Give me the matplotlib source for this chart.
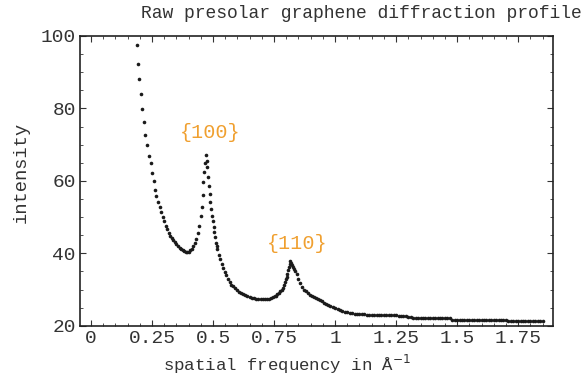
import matplotlib.pyplot as plt
from matplotlib.ticker import MultipleLocator

plt.rcParams['font.family'] = ['Liberation Mono', 'DejaVu Sans Mono']

# spatial frequency (1/A) and raw intensity
freq = [0.189, 0.193, 0.197, 0.203, 0.209, 0.216, 0.223, 0.230, 0.238, 0.245,
        0.251, 0.257, 0.262, 0.268, 0.275, 0.281, 0.287, 0.293, 0.299, 0.306,
        0.312, 0.318, 0.325, 0.331, 0.337, 0.344, 0.350, 0.356, 0.363, 0.369,
        0.375, 0.382, 0.388, 0.394, 0.401, 0.407, 0.413, 0.419, 0.426, 0.432,
        0.438, 0.444, 0.449, 0.453, 0.457, 0.460, 0.463, 0.467, 0.471, 0.474,
        0.477, 0.480, 0.483, 0.486, 0.489, 0.493, 0.497, 0.500, 0.503, 0.506,
        0.509, 0.512, 0.515, 0.518, 0.524, 0.529, 0.535, 0.541, 0.547, 0.554,
        0.561, 0.568, 0.575, 0.582, 0.590, 0.598, 0.606, 0.614, 0.623, 0.632,
        0.641, 0.650, 0.659, 0.668, 0.677, 0.686, 0.695, 0.704, 0.713, 0.721,
        0.729, 0.737, 0.745, 0.752, 0.758, 0.764, 0.770, 0.776, 0.781, 0.786,
        0.790, 0.794, 0.798, 0.802, 0.805, 0.808, 0.811, 0.814, 0.817, 0.820,
        0.823, 0.826, 0.830, 0.836, 0.842, 0.849, 0.857, 0.865, 0.873, 0.881,
        0.889, 0.897, 0.905, 0.914, 0.922, 0.930, 0.939, 0.947, 0.956, 0.964,
        0.972, 0.980, 0.990, 1.000, 1.010, 1.020, 1.030, 1.040, 1.050, 1.060,
        1.070, 1.080, 1.090, 1.100, 1.110, 1.120, 1.130, 1.140, 1.150, 1.160,
        1.170, 1.180, 1.190, 1.200, 1.210, 1.220, 1.230, 1.240, 1.250, 1.260,
        1.270, 1.280, 1.290, 1.300, 1.310, 1.320, 1.330, 1.340, 1.350, 1.360,
        1.370, 1.380, 1.390, 1.400, 1.410, 1.420, 1.430, 1.440, 1.450, 1.460,
        1.470, 1.480, 1.490, 1.500, 1.510, 1.520, 1.530, 1.540, 1.550, 1.560,
        1.570, 1.580, 1.590, 1.600, 1.610, 1.620, 1.630, 1.640, 1.650, 1.660,
        1.670, 1.680, 1.690, 1.700, 1.710, 1.720, 1.730, 1.740, 1.750, 1.760,
        1.770, 1.780, 1.790, 1.800, 1.810, 1.820, 1.830, 1.840, 1.850]
intensity = [97.5, 92.2, 88.0, 84.0, 79.8, 76.2, 72.6, 69.8, 67.0, 64.8,
             62.3, 60.0, 57.5, 55.8, 54.2, 52.8, 51.4, 50.0, 48.8, 47.6,
             46.6, 45.7, 44.9, 44.2, 43.6, 43.0, 42.5, 42.0, 41.6, 41.2,
             40.9, 40.6, 40.5, 40.4, 40.5, 40.8, 41.3, 42.0, 42.8, 44.0,
             45.5, 47.6, 50.2, 52.7, 56.0, 59.6, 62.5, 65.0, 67.2, 65.5,
             63.8, 61.2, 58.7, 56.4, 54.1, 52.2, 50.4, 48.8, 47.2, 45.8,
             44.4, 42.8, 42.0, 41.3, 39.6, 38.5, 37.2, 36.0, 34.9, 33.9,
             33.0, 32.2, 31.4, 30.9, 30.4, 29.9, 29.4, 29.0, 28.7, 28.4,
             28.1, 27.9, 27.7, 27.6, 27.5, 27.4, 27.4, 27.4, 27.4, 27.4,
             27.5, 27.7, 27.9, 28.1, 28.3, 28.7, 29.1, 29.6, 30.0, 30.5,
             31.2, 32.0, 32.8, 33.6, 34.4, 35.3, 36.2, 37.1, 37.9, 37.3,
             36.8, 36.3, 35.8, 35.2, 34.2, 33.0, 31.8, 30.8, 30.0, 29.5,
             29.0, 28.6, 28.3, 28.0, 27.8, 27.5, 27.2, 26.8, 26.4, 26.0,
             25.7, 25.4, 25.1, 24.8, 24.6, 24.3, 24.1, 23.9, 23.8, 23.6,
             23.5, 23.4, 23.3, 23.3, 23.2, 23.2, 23.1, 23.1, 23.1, 23.0,
             23.0, 23.0, 23.1, 22.9, 23.0, 23.0, 22.9, 22.9, 22.9, 22.8,
             22.8, 22.7, 22.6, 22.5, 22.4, 22.3, 22.3, 22.2, 22.2, 22.2,
             22.2, 22.2, 22.2, 22.2, 22.2, 22.2, 22.2, 22.2, 22.2, 22.2,
             22.2, 21.6, 21.6, 21.6, 21.6, 21.6, 21.6, 21.6, 21.6, 21.6,
             21.6, 21.6, 21.6, 21.6, 21.6, 21.6, 21.6, 21.6, 21.6, 21.6,
             21.6, 21.6, 21.6, 21.6, 21.3, 21.3, 21.3, 21.3, 21.3, 21.3,
             21.3, 21.3, 21.3, 21.3, 21.3, 21.3, 21.3, 21.3, 21.3]

xticks = [0, 0.25, 0.5, 0.75, 1, 1.25, 1.5, 1.75]
xticklabels = ['0', '0.25', '0.5', '0.75', '1', '1.25', '1.5', '1.75']
yticks = [20, 40, 60, 80, 100]

peak_labels = ['{100}', '{110}']
peak_pos = [(0.49, 73.3), (0.845, 42.7)]

fig = plt.figure(figsize=(5.84, 3.78), dpi=100)
ax = fig.add_axes([0.137, 0.138, 0.810, 0.767])

ax.plot(freq, intensity, 'o', color='#1a1a1a', markersize=2.6, markeredgewidth=0)

for lab, (px, py) in zip(peak_labels, peak_pos):
    ax.text(px, py, lab, color='#f0a030', fontsize=14.5, ha='center', va='center')

ax.set_xlim(-0.045, 1.893)
ax.set_ylim(20, 100)
ax.set_xticks(xticks)
ax.set_xticklabels(xticklabels)
ax.set_yticks(yticks)
ax.xaxis.set_minor_locator(MultipleLocator(0.05))
ax.yaxis.set_minor_locator(MultipleLocator(5))
ax.tick_params(which='both', direction='in', top=True, right=True, labelsize=14,
               color='#333333', labelcolor='#333333')
ax.tick_params(which='major', length=4, width=0.8)
ax.tick_params(which='minor', length=2, width=0.6)
ax.tick_params(axis='x', pad=3)
ax.tick_params(axis='y', pad=3)
for s in ax.spines.values():
    s.set_linewidth(1.2)
    s.set_color('#222222')

fig.text(361 / 584, 1 - 13 / 378, 'Raw presolar graphene diffraction profile',
         fontsize=13, ha='center', va='center', color='#333333')
ax.set_xlabel('spatial frequency in Å$^{-1}$', fontsize=12.5, color='#333333')
ax.xaxis.set_label_coords(0.437, -0.092)
ax.set_ylabel('intensity', fontsize=13.5, color='#333333')
ax.yaxis.set_label_coords(-0.107, 0.53)

fig.savefig('out.png', dpi=100)
